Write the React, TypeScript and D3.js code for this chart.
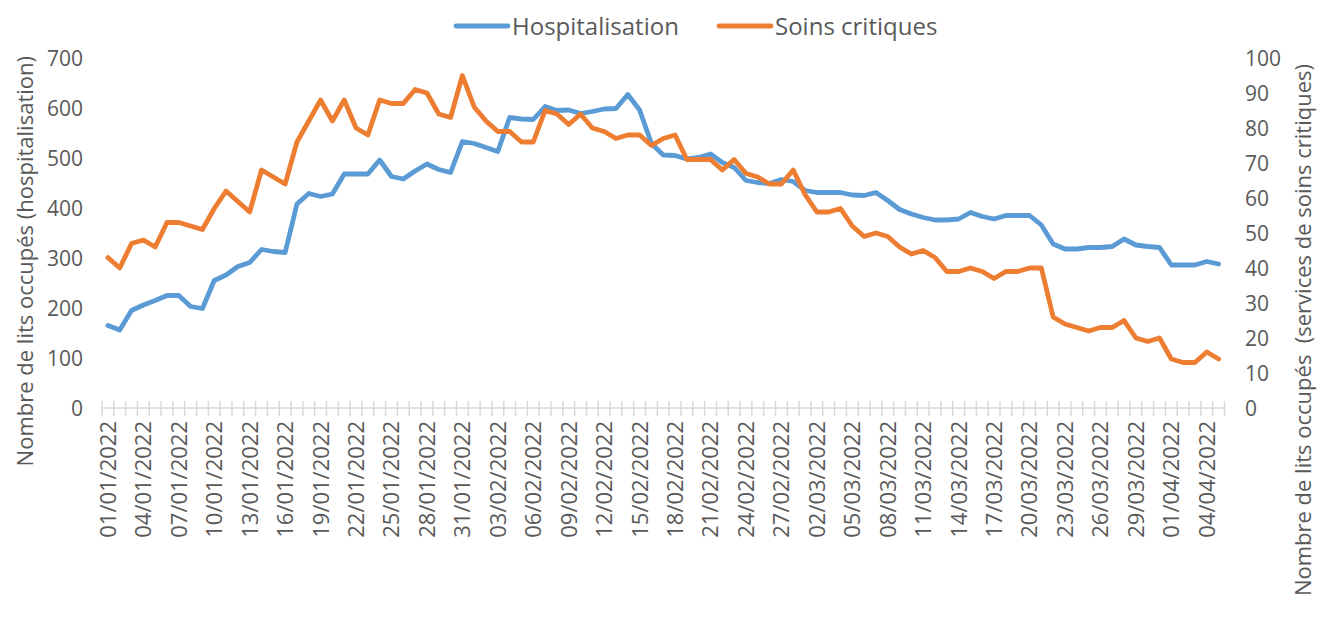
import React from "react";
import * as d3 from "d3";

// Categories: one per day from 01/01/2022 to 05/04/2022
const startDate = new Date(2022, 0, 1);
const endDate = new Date(2022, 3, 6);
const dates: Date[] = d3.timeDay.range(startDate, endDate);
const fmt = d3.timeFormat("%d/%m/%Y");
const categories: string[] = dates.map((d) => fmt(d));

const hospitalisation: number[] = [
  165, 156, 195, 206, 215, 225, 225, 203, 199, 255,
  266, 283, 291, 317, 313, 311, 408, 429, 423, 428,
  468, 468, 468, 496, 463, 458, 474, 488, 477, 471,
  533, 529, 521, 513, 581, 578, 577, 603, 595, 596,
  589, 593, 598, 599, 627, 596, 529, 506, 505, 498,
  501, 508, 491, 481, 455, 451, 449, 457, 453, 435,
  431, 431, 431, 426, 425, 431, 415, 397, 388, 381,
  376, 376, 378, 391, 383, 378, 385, 385, 385, 366,
  328, 318, 318, 321, 321, 323, 338, 326, 323, 321,
  286, 286, 286, 293, 288,
];

const soinsCritiques: number[] = [
  43, 40, 47, 48, 46, 53, 53, 52, 51, 57,
  62, 59, 56, 68, 66, 64, 76, 82, 88, 82,
  88, 80, 78, 88, 87, 87, 91, 90, 84, 83,
  95, 86, 82, 79, 79, 76, 76, 85, 84, 81,
  84, 80, 79, 77, 78, 78, 75, 77, 78, 71,
  71, 71, 68, 71, 67, 66, 64, 64, 68, 61,
  56, 56, 57, 52, 49, 50, 49, 46, 44, 45,
  43, 39, 39, 40, 39, 37, 39, 39, 40, 40,
  26, 24, 23, 22, 23, 23, 25, 20, 19, 20,
  14, 13, 13, 16, 14,
];

const leftTicks: number[] = [0, 100, 200, 300, 400, 500, 600, 700];
const rightTicks: number[] = [0, 10, 20, 30, 40, 50, 60, 70, 80, 90, 100];

const seriesNames = ["Hospitalisation", "Soins critiques"];
const BLUE = "#5B9BD5";
const ORANGE = "#ED7D31";
const TEXT = "#595959";
const FONT = "'Open Sans', 'DejaVu Sans', sans-serif";

const W = 1317;
const H = 625;
const plotLeft = 102;
const plotRight = 1224.5;
const plotTop = 58;
const plotBottom = 408;

export default function App() {
  const x = d3.scaleBand<string>().domain(categories).range([plotLeft, plotRight]).padding(0);
  const bw = x.bandwidth();
  const cx = (c: string) => (x(c) as number) + bw / 2;
  const yL = d3.scaleLinear().domain([0, 700]).range([plotBottom, plotTop]);
  const yR = d3.scaleLinear().domain([0, 100]).range([plotBottom, plotTop]);

  const lineL = d3
    .line<number>()
    .x((_, i) => cx(categories[i]))
    .y((d) => yL(d));
  const lineR = d3
    .line<number>()
    .x((_, i) => cx(categories[i]))
    .y((d) => yR(d));

  const boundaries = categories.map((c) => x(c) as number).concat([plotRight]);

  return (
    <svg width={W} height={H} style={{ position: "absolute", left: 0, top: 0, background: "#fff" }} fontFamily={FONT}>
      <rect x={0} y={0} width={W} height={H} fill="#fff" />
      {/* x axis line and tick marks */}
      <line x1={plotLeft} x2={plotRight} y1={plotBottom} y2={plotBottom} stroke="#d9d9d9" strokeWidth={1.5} />
      {boundaries.map((b, i) => (
        <line key={"t" + i} x1={b} x2={b} y1={plotBottom - 7} y2={plotBottom + 8} stroke="#d9d9d9" strokeWidth={1.5} />
      ))}
      {/* x tick labels */}
      {categories.map((c, i) =>
        i % 3 === 0 ? (
          <text
            key={"xl" + i}
            transform={`translate(${cx(c)},${plotBottom + 13}) rotate(-90)`}
            textAnchor="end"
            dy="0.36em"
            fontSize={22}
            fill={TEXT}
          >
            {c}
          </text>
        ) : null
      )}
      {/* left ticks */}
      {leftTicks.map((t) => (
        <text key={"l" + t} x={83} y={yL(t)} dy="0.36em" textAnchor="end" fontSize={21} fill={TEXT}>
          {t}
        </text>
      ))}
      {/* right ticks */}
      {rightTicks.map((t) => (
        <text key={"r" + t} x={1245} y={yR(t)} dy="0.36em" textAnchor="start" fontSize={21} fill={TEXT}>
          {t}
        </text>
      ))}
      {/* axis titles */}
      <text transform={`translate(33,56) rotate(-90)`} textAnchor="end" fontSize={22} fill={TEXT}>
        Nombre de lits occupés (hospitalisation)
      </text>
      <text transform={`translate(1311,64) rotate(-90)`} textAnchor="end" fontSize={22} fill={TEXT} style={{ whiteSpace: "pre" }}>
        {"Nombre de lits occupés  (services de soins critiques)"}
      </text>
      {/* lines */}
      <path d={lineL(hospitalisation) || ""} fill="none" stroke={BLUE} strokeWidth={4.8} strokeLinejoin="round" strokeLinecap="round" />
      <path d={lineR(soinsCritiques) || ""} fill="none" stroke={ORANGE} strokeWidth={4.8} strokeLinejoin="round" strokeLinecap="round" />
      {/* legend */}
      <line x1={456} x2={508} y1={26} y2={26} stroke={BLUE} strokeWidth={4.8} strokeLinecap="round" />
      <text x={512} y={26} dy="0.36em" fontSize={24} fill={TEXT}>
        {seriesNames[0]}
      </text>
      <line x1={719} x2={771} y1={26} y2={26} stroke={ORANGE} strokeWidth={4.8} strokeLinecap="round" />
      <text x={775} y={26} dy="0.36em" fontSize={24} fill={TEXT}>
        {seriesNames[1]}
      </text>
    </svg>
  );
}
